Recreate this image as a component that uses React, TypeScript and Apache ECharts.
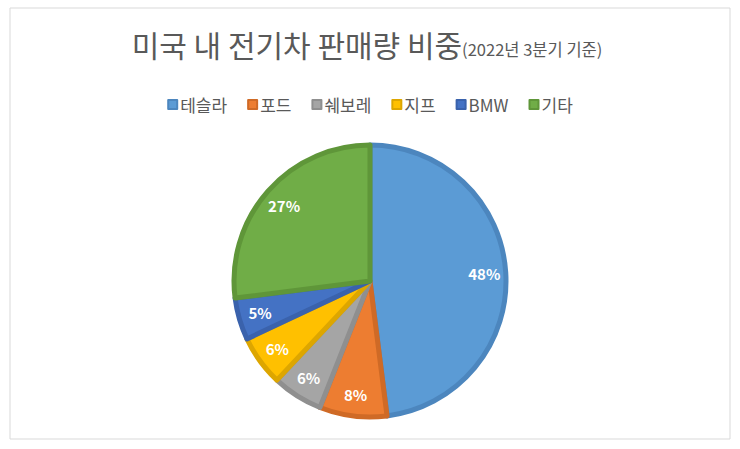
import React, { useEffect, useRef } from "react";
import * as echarts from "echarts";

const brands = ["테슬라", "포드", "쉐보레", "지프", "BMW", "기타"];
const shares = [48, 8, 6, 6, 5, 27];
const fills = ["#5B9BD5", "#ED7D31", "#A5A5A5", "#FFC000", "#4472C4", "#70AD47"];
const edges = ["#4C86BE", "#CF6A26", "#8F8F8F", "#DDA600", "#3A62AC", "#5F9639"];

const FONT = "'Noto Sans CJK KR', 'Noto Sans', sans-serif";

const App = () => {
  const chartRef = useRef<HTMLDivElement>(null);

  useEffect(() => {
    const chart = echarts.init(chartRef.current, null, { renderer: "svg" });
    const center = ["370", "281"];
    const r = 136;

    chart.setOption({
      animation: false,
      color: fills,
      title: {
        text: "{a|미국 내 전기차 판매량 비중}{b|(2022년 3분기 기준)}",
        left: 362,
        textAlign: "center",
        top: 24,
        textStyle: {
          fontWeight: "normal",
          rich: {
            a: { fontSize: 30, fontWeight: "normal", color: "#595959", fontFamily: FONT, verticalAlign: "bottom" },
            b: { fontSize: 16.5, fontWeight: "normal", color: "#595959", fontFamily: FONT, verticalAlign: "bottom", padding: [0, 0, 2, 0] },
          },
        },
      },
      legend: {
        top: 91,
        left: "center",
        itemWidth: 9,
        itemHeight: 9,
        itemGap: 20,
        icon: "rect",
        textStyle: { fontSize: 17, color: "#595959", fontFamily: FONT, padding: [0, 0, 0, -2] },
        data: brands,
      },
      graphic: [
        {
          type: "rect",
          shape: { x: 10, y: 8, width: 720, height: 431 },
          style: { fill: "none", stroke: "#D9D9D9", lineWidth: 1 },
          silent: true,
        },
      ],
      series: [
        {
          type: "pie",
          center,
          radius: [0, r],
          startAngle: 90,
          clockwise: true,
          label: { show: false },
          labelLine: { show: false },
          data: brands.map((name, i) => ({
            name,
            value: shares[i],
            itemStyle: { color: fills[i], borderColor: edges[i], borderWidth: 5 },
          })),
        },
        {
          type: "pie",
          center,
          radius: [r * 0.64, r],
          startAngle: 90,
          silent: true,
          legendHoverLink: false,
          itemStyle: { color: "rgba(0,0,0,0)" },
          label: {
            show: true,
            position: "inside",
            color: "#FFFFFF",
            fontWeight: "bold",
            fontSize: 15,
            fontFamily: FONT,
            formatter: (p: any) => `${p.value}%`,
          },
          labelLine: { show: false },
          data: brands.map((name, i) => ({ name: name + " ", value: shares[i] })),
        },
      ],
    });

    return () => {
      chart.dispose();
    };
  }, []);

  return (
    <div
      ref={chartRef}
      style={{ position: "fixed", left: 0, top: 0, width: 740, height: 449, background: "#fff" }}
    />
  );
};

export default App;
